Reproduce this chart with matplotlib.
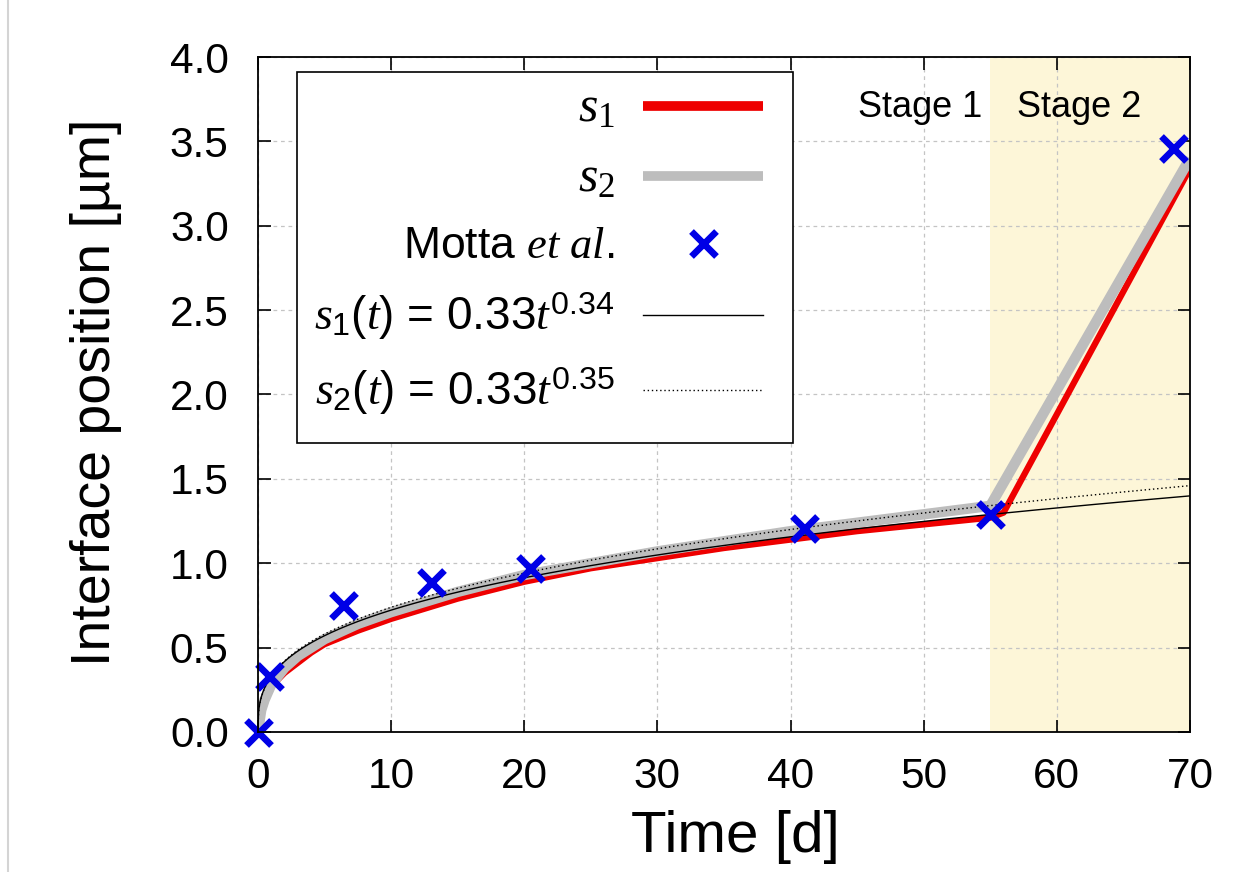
import numpy as np
import matplotlib
matplotlib.use("Agg")
from matplotlib import pyplot as plt
from matplotlib.lines import Line2D
from matplotlib.patches import Rectangle

plt.rcParams['font.family'] = ['Liberation Sans', 'DejaVu Sans']
plt.rcParams['mathtext.fontset'] = 'custom'
plt.rcParams['mathtext.rm'] = 'Liberation Sans'
plt.rcParams['mathtext.it'] = 'Liberation Serif:italic'
plt.rcParams['mathtext.cal'] = 'Liberation Serif'

# simulated interface positions
t_s1 = [0, 0.25, 0.5, 1, 1.5, 2, 3, 4, 5, 7.5, 10, 15, 20, 25, 30, 35, 40, 45, 50, 55, 56, 70]
s1 = [0, 0.15, 0.20, 0.27, 0.31, 0.35, 0.41, 0.47, 0.52, 0.60, 0.67, 0.79, 0.89, 0.97, 1.03,
      1.09, 1.14, 1.19, 1.23, 1.27, 1.30, 3.34]
t_s2 = [0, 0.25, 0.5, 1, 1.5, 2, 3, 4, 5, 7.5, 10, 15, 20, 25, 30, 35, 40, 45, 50, 55, 70]
s2 = [0, 0.13, 0.19, 0.28, 0.33, 0.38, 0.45, 0.50, 0.55, 0.64, 0.71, 0.83, 0.93, 1.00, 1.07,
      1.13, 1.19, 1.24, 1.29, 1.34, 3.40]

# Motta et al. measurements
t_motta = [0, 0.8, 6.4, 13.0, 20.4, 41.0, 55.0, 68.7]
s_motta = [0, 0.33, 0.75, 0.89, 0.97, 1.21, 1.29, 3.46]

# power law fits s(t) = a t^b
fit_a = 0.33
fit_b1 = 0.34
fit_b2 = 0.35

stage2_start = 55
xticks = [0, 10, 20, 30, 40, 50, 60, 70]
yticks = [0.0, 0.5, 1.0, 1.5, 2.0, 2.5, 3.0, 3.5, 4.0]

fig = plt.figure(figsize=(12.52, 8.72), dpi=100)
ax = fig.add_axes([0.206, 0.1606, 0.7445, 0.774])

ax.axvspan(stage2_start, 70, color='#fdf6d8', zorder=0, lw=0)

t_fit = np.linspace(0, 70, 1400)
ax.plot(t_s1, s1, color='#ee0000', lw=4.5, label=r'$s_{\mathcal{1}}$', zorder=3,
        solid_capstyle='butt')
ax.plot(t_s2, s2, color='#bdbdbd', lw=7.5, label=r'$s_{\mathcal{2}}$', zorder=4,
        solid_capstyle='butt')
ax.plot(t_motta, s_motta, ls='none', marker='x', ms=18, mew=4.8, color='#0000e6',
        label=r'Motta $et\ al$.', zorder=6, clip_on=False)
ax.plot(t_fit, fit_a * t_fit ** fit_b1, color='black', lw=1.0, zorder=5,
        label=r'$s_1(t)$ = %.2f$t^{%.2f}$' % (fit_a, fit_b1))
ax.plot(t_fit, fit_a * t_fit ** fit_b2, color='black', lw=1.0, ls=(0, (1, 2)), zorder=5,
        label=r'$s_2(t)$ = %.2f$t^{%.2f}$' % (fit_a, fit_b2))

ax.text(54.4, 3.70, 'Stage 1', ha='right', va='center', fontsize=26, zorder=7)
ax.text(57.0, 3.70, 'Stage 2', ha='left', va='center', fontsize=26, zorder=7)

ax.set_xlim(0, 70)
ax.set_ylim(0, 4)
ax.set_xticks(xticks)
ax.set_yticks(yticks)
ax.set_yticklabels(['%.1f' % v for v in yticks])
ax.tick_params(direction='in', length=9, width=1.2, top=True, right=True,
               labelsize=30.5, colors='black')
ax.tick_params(axis='y', pad=21)
ax.tick_params(axis='x', pad=18)
ax.grid(True, color='#c4c4c4', ls=(0, (3, 3)), lw=0.9)
for gl in ax.get_xgridlines() + ax.get_ygridlines():
    gl.set_zorder(1)
for sp in ax.spines.values():
    sp.set_linewidth(1.3)
    sp.set_zorder(8)

ax.set_xlabel('Time [d]', fontsize=42)
ax.set_ylabel('Interface position [µm]', fontsize=40)
ax.xaxis.set_label_coords(0.512, -0.115)
ax.yaxis.set_label_coords(-0.146, 0.504)

# legend frame drawn separately so its size matches the original box
ax.add_patch(Rectangle((0.042, 0.428), 0.532, 0.55, transform=ax.transAxes,
                       facecolor='white', edgecolor='black', lw=1.2, zorder=9))
leg = ax.legend(loc='upper right', bbox_to_anchor=(0.542, 0.958), borderaxespad=0,
                markerfirst=False, fontsize=31, handlelength=2.8, handletextpad=0.65,
                labelspacing=0.56, borderpad=0, frameon=False)
leg.set_zorder(10)
for ln in leg.get_lines()[:2]:
    ln.set_linewidth(7)
texts = leg.get_texts()
for i in (0, 1):
    texts[i].set_fontsize(36)
texts[2].set_fontsize(32)
for i in (3, 4):
    texts[i].set_fontsize(33)

# thin grey border at the left edge of the page
fig.add_artist(Line2D([8 / 1252, 8 / 1252], [0, 1], color='#d4d4d4', lw=1.5))

fig.savefig('out.png', dpi=100)
